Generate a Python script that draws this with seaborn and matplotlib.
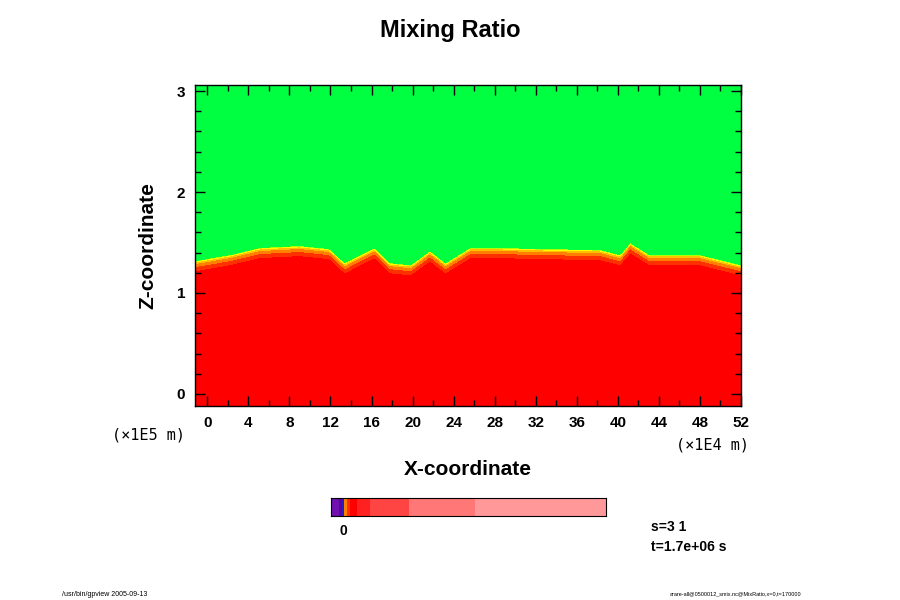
import numpy as np
import matplotlib
matplotlib.use("Agg")
import matplotlib.pyplot as plt
import seaborn as sns

sns.set_style("ticks")
plt.rcParams['font.family'] = ['Liberation Sans', 'DejaVu Sans']
plt.rcParams['text.color'] = 'black'
plt.rcParams['axes.labelcolor'] = 'black'
plt.rcParams['xtick.color'] = 'black'
plt.rcParams['ytick.color'] = 'black'
plt.rcParams['axes.edgecolor'] = 'black'

# interface height (Z) read along X
iface_x = [-1.2, 2.2, 5.1, 9.0, 11.9, 13.4, 15.3, 16.3, 17.8, 19.8, 21.7, 23.2, 25.6, 28.5, 32.4, 38.3, 40.2, 41.2, 43.1, 48.0, 52.0]
iface_z = [1.24, 1.30, 1.37, 1.39, 1.36, 1.22, 1.32, 1.37, 1.22, 1.20, 1.34, 1.22, 1.37, 1.37, 1.36, 1.35, 1.30, 1.42, 1.30, 1.30, 1.20]
levels = [0, 0.5, 0.7, 0.85, 0.93, 0.97, 1.0, 1.5]
colors = ['#ff0000', '#ff3000', '#ff8000', '#ffc000', '#ffff00', '#b0ff00', '#00ff40']

# colorbar segments (fraction of width, colour)
cb_widths = [0.03, 0.01, 0.007, 0.01, 0.012, 0.025, 0.048, 0.143, 0.24, 0.475]
cb_colors = ['#7010b0', '#6000a0', '#2020c0', '#ff8000', '#ff3000', '#ff0000', '#ff2020', '#ff4444', '#ff7777', '#ff9999']

x = np.linspace(-1.2, 52, 400)
z = np.linspace(-0.12, 3.06, 300)
X, Z = np.meshgrid(x, z)
h = np.interp(x, iface_x, iface_z)
F = np.clip((Z - h[None, :]) / 0.2 + 0.6, 0, 1.2)

fig = plt.figure(figsize=(9, 6), dpi=100)
ax = fig.add_axes([195/900, 1-406/600, 546/900, 321/600])
ax.contourf(X, Z, F, levels=levels, colors=colors)
ax.set_axisbelow(False)
ax.set_xlim(-1.2, 52)
ax.set_ylim(-0.12, 3.06)
ax.set_xticks(range(0, 53, 4))
ax.set_yticks([0, 1, 2, 3])
ax.set_xticks(np.arange(0, 53, 2), minor=True)
ax.set_yticks(np.arange(0, 3.1, 0.2), minor=True)
ax.tick_params(which='both', direction='in', top=True, right=True, labelsize=11, width=1, pad=7)
ax.tick_params(which='major', length=7)
ax.tick_params(which='minor', length=4)
for lab in ax.get_xticklabels() + ax.get_yticklabels():
    lab.set_fontweight('bold')
for s in ax.spines.values():
    s.set_linewidth(1)
ax.set_xlabel('X-coordinate', fontsize=15, fontweight='bold', labelpad=22)
ax.set_ylabel('Z-coordinate', fontsize=15, fontweight='bold', labelpad=14)

fig.text(0.5, 1-30/600, 'Mixing Ratio', ha='center', va='center', fontsize=17, fontweight='bold')
fig.text(148/900, 1-435/600, '(×1E5 m)', ha='center', va='center', fontsize=11, family='DejaVu Sans Mono')
fig.text(712/900, 1-445/600, '(×1E4 m)', ha='center', va='center', fontsize=11, family='DejaVu Sans Mono')

cax = fig.add_axes([331/900, 1-516/600, 275/900, 18/600])
left = np.cumsum([0] + cb_widths[:-1])
cax.barh(0, cb_widths, left=left, height=1, color=cb_colors, align='edge', linewidth=0)
cax.set_xlim(0, sum(cb_widths))
cax.set_ylim(0, 1)
cax.set_xticks([])
cax.set_yticks([])
for s in cax.spines.values():
    s.set_visible(True)
fig.text(343/900, 1-531/600, '0', ha='center', va='center', fontsize=10, fontweight='bold')

fig.text(651/900, 1-527/600, 's=3 1', ha='left', va='center', fontsize=10, fontweight='bold')
fig.text(651/900, 1-547/600, 't=1.7e+06 s', ha='left', va='center', fontsize=10, fontweight='bold')
fig.text(62/900, 1-594/600, '/usr/bin/gpview 2005-09-13', ha='left', va='center', fontsize=5)
fig.text(670/900, 1-594/600, 'arare-all@0500012_smix.nc@MixRatio,x=0,t=170000', ha='left', va='center', fontsize=4)

fig.savefig('out.png', dpi=100)
